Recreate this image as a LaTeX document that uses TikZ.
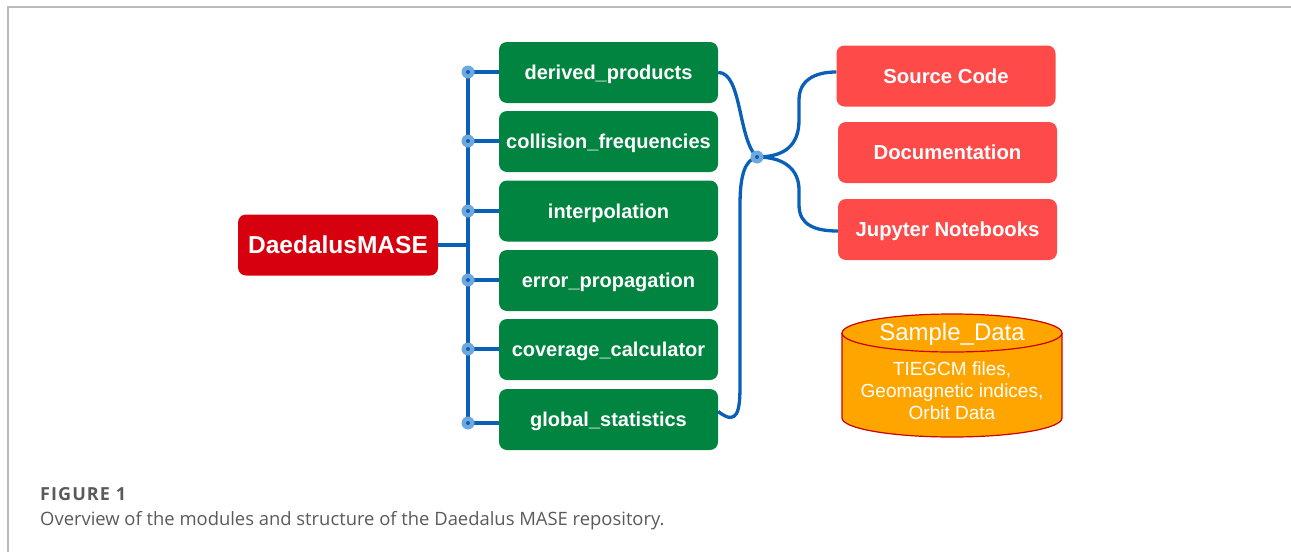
\documentclass[tikz,border=0pt]{standalone}
\usepackage{fontspec}
\setmainfont{Liberation Sans}
\newfontfamily\capfont{Open Sans}
\newfontfamily\capfontsp[LetterSpace=6]{Open Sans}
\definecolor{mred}{HTML}{D7000F}
\definecolor{mgreen}{HTML}{00843F}
\definecolor{lred}{HTML}{FF4A4A}
\definecolor{morange}{HTML}{FFA500}
\definecolor{cylborder}{HTML}{CC0000}
\definecolor{lblue}{HTML}{0A5FB8}
\definecolor{dotblue}{HTML}{6FA8DC}
\definecolor{framegray}{HTML}{BBBBBB}
\definecolor{capgray}{HTML}{5A5A5A}
\tikzset{
  mainbox/.style={fill=mred, rounded corners=8pt, text=white, font=\fontsize{24.5}{28}\selectfont\bfseries, minimum width=200pt, minimum height=61pt, inner sep=0pt, text height=17.5pt, text depth=0pt},
  modbox/.style={fill=mgreen, rounded corners=8pt, text=white, font=\fontsize{20}{24}\selectfont\bfseries, minimum width=219pt, minimum height=61pt, inner sep=0pt, text height=14.5pt, text depth=0pt},
  docbox/.style={fill=lred, rounded corners=8pt, text=white, font=\fontsize{20.3}{24}\selectfont\bfseries, minimum width=219pt, minimum height=61pt, inner sep=0pt, text height=14.5pt, text depth=0pt},
  conn/.style={draw=lblue, line width=3.3pt},
  jdot/.style={circle, fill=dotblue, minimum size=13pt, inner sep=0pt},
}
\begin{document}
\begin{tikzpicture}[x=1pt,y=-1pt]
\useasboundingbox (0,0) rectangle (1291,552);
% frame
\draw[framegray, line width=1.5pt] (8,552) -- (8,7) -- (1291,7);

% nodes
\node[mainbox] (dm) at (338,245) {DaedalusMASE};
\node[modbox] (dp) at (608.5,72.5) {derived\_products};
\node[modbox] (cf) at (608.5,141.5) {collision\_frequencies};
\node[modbox] (ip) at (608.5,211) {interpolation};
\node[modbox] (ep) at (608.5,280.5) {error\_propagation};
\node[modbox] (cc) at (608.5,349.5) {coverage\_calculator};
\node[modbox] (gs) at (608.5,419.5) {global\_statistics};

\node[docbox] (sc) at (946,76) {Source Code};
\node[docbox] (dc) at (947.5,152.5) {Documentation};
\node[docbox] (jn) at (947.5,229.5) {Jupyter Notebooks};

% trunk
\coordinate (t1) at (468,72);
\coordinate (t2) at (468,141);
\coordinate (t3) at (468,211);
\coordinate (t4) at (468,280);
\coordinate (t5) at (468,349);
\coordinate (t6) at (468,423);
\coordinate (tm) at (468,245);
\coordinate (J) at (757,157);

\draw[conn] (t1) -- (t6);
\draw[conn] (dm.east) -- (tm);
\foreach \t/\b in {t1/dp,t2/cf,t3/ip,t4/ep,t5/cc,t6/gs}{
  \draw[conn] (\t) -- (\t -| \b.west);
}
% right side connectors
\draw[conn] (dp.east) .. controls (742,72) and (738,140) .. (J);
\draw[conn] ([yshift=8pt]gs.east) .. controls (738,427) and (740,410) .. (740,385) -- (740,205) .. controls (740,175) and (745,160) .. (J);
\draw[conn] (J) .. controls (785,157) and (799,145) .. (799,120) -- (799,100) .. controls (799,80) and (815,72) .. (sc.west |- 0,72);
\draw[conn] (J) .. controls (785,157) and (799,170) .. (799,190) -- (799,205) .. controls (799,225) and (815,231) .. (jn.west |- 0,231);

% dots
\foreach \t in {t1,t2,t3,t4,t5,t6,J}{
  \node[jdot] at (\t) {};
  \fill[lblue] (\t) circle (2pt);
}

% cylinder
\path[fill=morange, draw=cylborder, line width=1.2pt]
  (842,333) -- (842,418) arc[start angle=180, end angle=360, x radius=110, y radius=-19] -- (1062,333) arc[start angle=0, end angle=180, x radius=110, y radius=-19] -- cycle;
\draw[cylborder, line width=1.2pt] (842,333) arc[start angle=180, end angle=360, x radius=110, y radius=-19];
\node[text=white, font=\fontsize{24}{27}\selectfont, inner sep=0pt] (sd) at (952,334) {Sample\_Data};
\node[text=white, font=\fontsize{19}{22}\selectfont, align=center, inner sep=0pt] (sdt) at (952,391) {TIEGCM files,\\Geomagnetic indices,\\Orbit Data};

% caption
\node[anchor=base west, text=capgray, font=\capfontsp\fontsize{18}{20}\selectfont\bfseries, inner sep=0pt] (fig) at (40,500) {FIGURE 1};
\node[anchor=base west, text=capgray, font=\capfont\fontsize{18.4}{20}\selectfont, inner sep=0pt] (cap) at (40,525) {Overview of the modules and structure of the Daedalus MASE repository.};
\end{tikzpicture}
\end{document}
